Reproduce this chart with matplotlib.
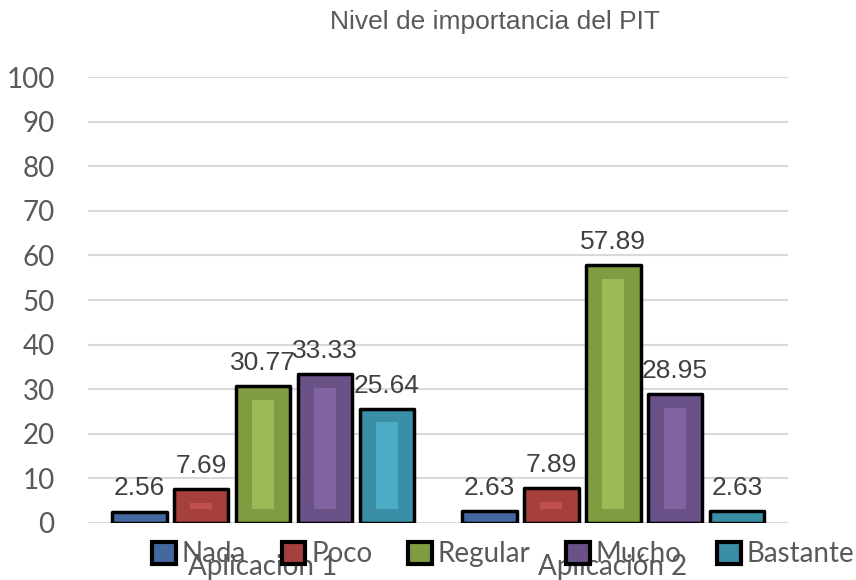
import numpy as np
import matplotlib.pyplot as plt
from matplotlib.patches import Patch

# ==========================================
# Data
# ==========================================

groups = ["Aplicación 1", "Aplicación 2"]
series = ["Nada", "Poco", "Regular", "Mucho", "Bastante"]
values = [
    [2.56, 2.63],
    [7.69, 7.89],
    [30.77, 57.89],
    [33.33, 28.95],
    [25.64, 2.63],
]
outer_colors = ["#43689f", "#a6403d", "#7f9c41", "#6a5289", "#3a8ea6"]
inner_colors = ["#4f81bd", "#c0504d", "#9bbb59", "#8064a2", "#4bacc6"]

title = "Nivel de importancia del PIT"

# ==========================================
# Fonts
# ==========================================

narrow = ["Liberation Sans Narrow", "Liberation Sans", "DejaVu Sans"]
body = ["Lato", "DejaVu Sans"]
gray = "#595959"

# ==========================================
# Plot
# ==========================================

fig = plt.figure(figsize=(8.56, 5.8), dpi=100)
ax = fig.add_axes([0.1028, 0.0983, 0.8178, 0.7687])

x = np.arange(len(groups))
step = 0.1771
width = 0.157
inset_x = 0.046
inset_y = 3.1

for i, name in enumerate(series):
    pos = x + (i - 2) * step
    ax.bar(
        pos,
        values[i],
        width,
        color=outer_colors[i],
        edgecolor="black",
        linewidth=2.5,
        joinstyle="round",
        zorder=3,
    )
    for p, v in zip(pos, values[i]):
        if v > 2 * inset_y + 1:
            ax.bar(
                p,
                v - 2 * inset_y,
                width - 2 * inset_x,
                bottom=inset_y,
                color=inner_colors[i],
                linewidth=0,
                zorder=4,
            )
        ax.text(
            p,
            v + 2.5,
            f"{v:.2f}",
            ha="center",
            va="bottom",
            fontsize=19,
            family=narrow,
            color="#404040",
        )

ax.set_xlim(-0.5, 1.5)
ax.set_ylim(0, 100)
ax.set_yticks(range(0, 101, 10))
ax.set_xticks(x)
ax.set_xticklabels(groups, fontsize=20, family=body, color=gray)
ax.tick_params(axis="x", length=0, pad=22)
ax.tick_params(axis="y", length=0, pad=24, labelsize=20, labelcolor=gray)
for lab in ax.get_yticklabels():
    lab.set_family(body)

ax.grid(axis="y", color="#d9d9d9", linewidth=1.5, zorder=0)
ax.set_axisbelow(True)
for s in ax.spines.values():
    s.set_visible(False)

fig.text(0.578, 0.962, title, ha="center", va="center",
         fontsize=19, family=narrow, color=gray)

handles = [
    Patch(facecolor=outer_colors[i], edgecolor="black", linewidth=3,
          joinstyle="round", label=series[i])
    for i in range(len(series))
]
fig.legend(
    handles=handles,
    loc="center",
    bbox_to_anchor=(0.588, 0.044),
    ncol=5,
    frameon=False,
    prop={"family": body, "size": 20},
    labelcolor=gray,
    handlelength=0.85,
    handleheight=0.85,
    handletextpad=0.2,
    columnspacing=1.3,
    borderpad=0,
)

plt.savefig("out.png", dpi=100)
